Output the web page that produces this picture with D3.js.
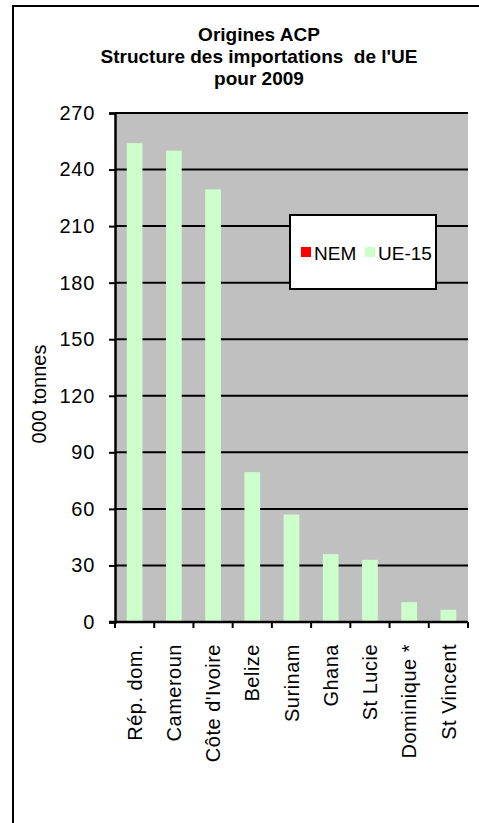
<!DOCTYPE html>
<html>
<head>
<meta charset="utf-8">
<script src="https://cdn.jsdelivr.net/npm/d3@7"></script>
<style>
  body { margin: 0; background: #fff; }
  svg { display: block; font-family: Arial, 'Liberation Sans', sans-serif; }
</style>
</head>
<body>
<svg id="chart" width="479" height="823"></svg>
<script>
const titleLines = ['Origines ACP', "Structure des importations  de l'UE", 'pour 2009'];
const categories = ['Rép. dom.', 'Cameroun', "Côte d'Ivoire", 'Belize', 'Surinam', 'Ghana', 'St Lucie', 'Dominique *', 'St Vincent'];
const seriesNames = ['NEM', 'UE-15'];
const nemValues = [0, 0, 0, 0, 0, 0, 0, 0, 0];
const ue15Values = [254, 250, 229.5, 79.5, 57, 36, 33, 10.5, 6.5];
const yTicks = [0, 30, 60, 90, 120, 150, 180, 210, 240, 270];
const colors = ['#ff0000', '#ccffcc'];

const width = 479;
const height = 823;
const margin = {top: 113, left: 115, right: 11};
const plotBottom = 622;

const svg = d3.select('#chart');

// outer frame, runs off the right and bottom edges like the original
svg.append('rect')
    .attr('x', 13).attr('y', 6)
    .attr('width', width).attr('height', height)
    .attr('fill', '#fff')
    .attr('stroke', '#000')
    .attr('stroke-width', 2);

const rows = categories.map((c, i) => ({cat: c, 'NEM': nemValues[i], 'UE-15': ue15Values[i]}));
const stacked = d3.stack().keys(seriesNames)(rows);

const x = d3.scaleBand()
    .domain(categories)
    .range([margin.left, width - margin.right])
    .paddingInner(0.6)
    .paddingOuter(0.3);

const y = d3.scaleLinear()
    .domain([0, 270])
    .range([plotBottom, margin.top]);

const color = d3.scaleOrdinal().domain(seriesNames).range(colors);

// plot area
svg.append('rect')
    .attr('x', margin.left).attr('y', margin.top)
    .attr('width', width - margin.right - margin.left)
    .attr('height', plotBottom - margin.top)
    .attr('fill', '#c0c0c0');

// gridlines
svg.append('g')
    .selectAll('line')
    .data(yTicks.filter((d) => d > 0))
    .enter()
    .append('line')
    .attr('x1', margin.left).attr('x2', width - margin.right)
    .attr('y1', (d) => y(d)).attr('y2', (d) => y(d))
    .attr('stroke', '#000')
    .attr('stroke-width', 2);

// bars
svg.append('g')
    .selectAll('g')
    .data(stacked)
    .enter()
    .append('g')
    .attr('fill', (d) => color(d.key))
    .selectAll('rect')
    .data((d) => d)
    .enter()
    .append('rect')
    .attr('x', (d) => x(d.data.cat))
    .attr('width', x.bandwidth())
    .attr('y', (d) => y(d[1]))
    .attr('height', (d) => y(d[0]) - y(d[1]));

// y axis
const yAxis = svg.append('g')
    .attr('transform', 'translate(' + margin.left + ',0)')
    .call(d3.axisLeft(y).tickValues(yTicks).tickSize(6).tickPadding(14));
yAxis.select('.domain').attr('stroke-width', 2.5);
yAxis.selectAll('.tick line').attr('stroke-width', 2);
yAxis.selectAll('text')
    .attr('font-size', '20px')
    .attr('fill', '#000')
    .style('letter-spacing', '0.7px');

// x axis: ticks between categories
const step = x.step();
const x0 = margin.left;
const boundaries = d3.range(categories.length + 1).map((i) => x0 + i * step);
svg.append('line')
    .attr('x1', margin.left - 6).attr('x2', width - margin.right)
    .attr('y1', plotBottom).attr('y2', plotBottom)
    .attr('stroke', '#000')
    .attr('stroke-width', 2.5);
svg.append('g')
    .selectAll('line')
    .data(boundaries)
    .enter()
    .append('line')
    .attr('x1', (d) => d).attr('x2', (d) => d)
    .attr('y1', plotBottom).attr('y2', plotBottom + 6)
    .attr('stroke', '#000')
    .attr('stroke-width', 2);

svg.append('g')
    .selectAll('text')
    .data(categories)
    .enter()
    .append('text')
    .attr('transform', (d) => 'translate(' + (x(d) + x.bandwidth() / 2) + ',' + (plotBottom + 22) + ') rotate(-90)')
    .attr('text-anchor', 'end')
    .attr('dy', '0.36em')
    .attr('font-size', '20px')
    .style('letter-spacing', '0.5px')
    .text((d) => d);

// y axis title
svg.append('text')
    .attr('transform', 'translate(39,394) rotate(-90)')
    .attr('text-anchor', 'middle')
    .attr('dy', '0.36em')
    .attr('font-size', '20px')
    .text('000 tonnes');

// title
svg.append('g')
    .selectAll('text')
    .data(titleLines)
    .enter()
    .append('text')
    .attr('x', 259)
    .attr('y', (d, i) => 40.5 + i * 22.3)
    .attr('text-anchor', 'middle')
    .attr('font-size', '19px')
    .attr('font-weight', 'bold')
    .style('white-space', 'pre')
    .text((d) => d);

// legend
const legend = svg.append('g').attr('transform', 'translate(290,215)');
legend.append('rect')
    .attr('width', 146).attr('height', 74)
    .attr('fill', '#fff')
    .attr('stroke', '#000')
    .attr('stroke-width', 2);
const itemX = [11, 75];
const item = legend.selectAll('.item')
    .data(seriesNames)
    .enter()
    .append('g')
    .attr('class', 'item')
    .attr('transform', (d, i) => 'translate(' + itemX[i] + ',32)');
item.append('rect')
    .attr('width', 10).attr('height', 10)
    .attr('fill', (d) => color(d));
item.append('text')
    .attr('x', 13)
    .attr('y', 13)
    .attr('font-size', '19px')
    .text((d) => d);
</script>
</body>
</html>
